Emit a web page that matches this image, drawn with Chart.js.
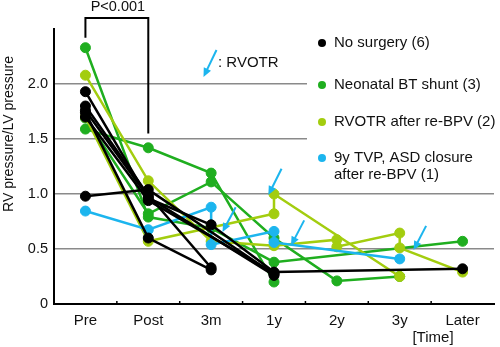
<!DOCTYPE html>
<html>
<head>
    <title>RV/LV pressure ratio</title>
    <script src="https://cdn.jsdelivr.net/npm/chart.js"></script>
    <style>
    body { margin: 0; background: #fff; }
    </style>
</head>
<body>
    <canvas id="ratioChart" width="500" height="347"></canvas>
    <script>
    // time points on the x axis
    const categories = ['Pre', 'Post', '3m', '1y', '2y', '3y', 'Later'];
    const yTicks = [0, 0.5, 1.0, 1.5, 2.0];

    // one row per patient: time points and RV/LV pressure ratio
    // repeated time points = before/after RVOTR at the same visit
    const noSurgery = [
        { t: ['Pre', 'Post', '3m', '1y', 'Later'], v: [1.93, 0.96, 0.72, 0.29, 0.32] },
        { t: ['Pre', 'Post', '3m'], v: [1.80, 0.99, 0.33] },
        { t: ['Pre', 'Post', '3m'], v: [1.74, 0.60, 0.31] },
        { t: ['Pre', 'Post', '1y'], v: [1.76, 0.97, 0.26] },
        { t: ['Pre', 'Post', '1y'], v: [1.70, 0.94, 0.28] },
        { t: ['Pre', 'Post', '1y'], v: [0.98, 1.04, 0.27] }
    ];
    const btShunt = [
        { t: ['Pre', 'Post', '3m', '1y', 'Later'], v: [2.33, 0.79, 0.69, 0.38, 0.57] },
        { t: ['Pre', 'Post', '3m', '1y', '2y', '3y'], v: [1.69, 0.82, 1.11, 0.60, 0.21, 0.25] },
        { t: ['Pre', 'Post', '3m', '1y'], v: [1.59, 1.42, 1.19, 0.20] }
    ];
    const rvotrReBpv = [
        { t: ['Pre', 'Post', '3m', '1y', '2y', '2y', '3y', '3y', 'Later'], v: [2.08, 1.12, 0.57, 0.53, 0.585, 0.52, 0.645, 0.51, 0.29] },
        { t: ['Pre', 'Post', '1y', '1y', '3y'], v: [1.70, 0.57, 0.82, 1.00, 0.25] }
    ];
    const tvpAsd = [
        { t: ['Pre', 'Post', '3m', '3m', '1y', '1y', '3y'], v: [0.845, 0.675, 0.88, 0.54, 0.66, 0.56, 0.41] }
    ];

    // RVOTR arrows: [x index, ratio] of tail and head
    const rvotrArrows = [
        { from: [2.39, 0.88], to: [2.18, 0.655] },
        { from: [3.12, 1.23], to: [2.91, 0.99] },
        { from: [3.48, 0.76], to: [3.27, 0.53] },
        { from: [5.42, 0.71], to: [5.22, 0.49] }
    ];

    const groups = [
        { name: 'No surgery (6)', rows: noSurgery, color: '#000000' },
        { name: 'Neonatal BT shunt (3)', rows: btShunt, color: '#1fae1f' },
        { name: 'RVOTR after re-BPV (2)', rows: rvotrReBpv, color: '#a3cd0f' },
        { name: ['9y TVP, ASD closure', 'after re-BPV (1)'], rows: tvpAsd, color: '#1cb5ee' }
    ];

    const FONT = 'Liberation Sans, Arial, sans-serif';
    const ARROW = '#1cb5ee';

    const datasets = [];
    // draw order: black, cyan, yellow-green, green
    [0, 3, 2, 1].forEach(gi => {
        const g = groups[gi];
        g.rows.forEach(r => {
            datasets.push({
                data: r.t.map((c, i) => ({ x: c, y: r.v[i] })),
                borderColor: g.color,
                backgroundColor: g.color,
                pointBackgroundColor: g.color,
                pointBorderColor: g.color,
                borderWidth: 2.5,
                pointRadius: 5,
                pointBorderWidth: 1,
                tension: 0
            });
        });
    });

    function drawArrow(ctx, x1, y1, x2, y2) {
        const ang = Math.atan2(y2 - y1, x2 - x1);
        ctx.save();
        ctx.strokeStyle = ARROW;
        ctx.fillStyle = ARROW;
        ctx.lineWidth = 2;
        ctx.beginPath();
        ctx.moveTo(x1, y1);
        ctx.lineTo(x2 - 6 * Math.cos(ang), y2 - 6 * Math.sin(ang));
        ctx.stroke();
        ctx.beginPath();
        ctx.moveTo(x2, y2);
        ctx.lineTo(x2 - 9 * Math.cos(ang) + 4 * Math.sin(ang), y2 - 9 * Math.sin(ang) - 4 * Math.cos(ang));
        ctx.lineTo(x2 - 9 * Math.cos(ang) - 4 * Math.sin(ang), y2 - 9 * Math.sin(ang) + 4 * Math.cos(ang));
        ctx.closePath();
        ctx.fill();
        ctx.restore();
    }

    const legendBox = {
        id: 'legendBox',
        beforeDatasetsDraw(chart) {
            const ctx = chart.ctx;
            ctx.save();
            ctx.fillStyle = '#fff';
            ctx.fillRect(307, 29, 193, 158);
            ctx.font = '15px ' + FONT;
            ctx.textBaseline = 'middle';
            ctx.textAlign = 'left';
            const rowY = [43, 85, 122, 158];
            groups.forEach((g, i) => {
                ctx.fillStyle = g.color;
                ctx.beginPath();
                ctx.arc(322, rowY[i], 4, 0, Math.PI * 2);
                ctx.fill();
                ctx.fillStyle = '#111';
                const lines = Array.isArray(g.name) ? g.name : [g.name];
                lines.forEach((l, j) => ctx.fillText(l, 334, rowY[i] + j * 17));
            });
            ctx.restore();
        },
        afterDraw(chart) {
            const ctx = chart.ctx;
            const xs = chart.scales.x, ys = chart.scales.y;
            ctx.save();

            // y axis title
            ctx.save();
            ctx.translate(9, 134);
            ctx.rotate(-Math.PI / 2);
            ctx.fillStyle = '#111';
            ctx.font = '14px ' + FONT;
            ctx.textAlign = 'center';
            ctx.textBaseline = 'middle';
            ctx.fillText('RV pressure/LV pressure', 0, 0);
            ctx.restore();

            // small tick marks between categories
            ctx.strokeStyle = '#000';
            ctx.lineWidth = 1.5;
            for (let i = 0; i < categories.length - 1; i++) {
                const x = xs.getPixelForValue(i + 0.5);
                ctx.beginPath();
                ctx.moveTo(x, ys.bottom);
                ctx.lineTo(x, ys.bottom - 3);
                ctx.stroke();
            }

            // P<0.001 bracket between Pre and Post
            const xPre = xs.getPixelForValue(0), xPost = xs.getPixelForValue(1);
            const yTop = ys.getPixelForValue(2.6);
            ctx.lineWidth = 2;
            ctx.beginPath();
            ctx.moveTo(xPre, ys.getPixelForValue(2.42));
            ctx.lineTo(xPre, yTop);
            ctx.lineTo(xPost, yTop);
            ctx.lineTo(xPost, ys.getPixelForValue(1.55));
            ctx.stroke();
            ctx.fillStyle = '#111';
            ctx.font = '14.5px ' + FONT;
            ctx.textAlign = 'center';
            ctx.textBaseline = 'middle';
            ctx.fillText('P<0.001', (xPre + xPost) / 2 + 1, 7);

            // [Time] label
            ctx.font = '15px ' + FONT;
            ctx.fillText('[Time]', 433, 338);

            // legend key for the arrows
            drawArrow(ctx, 216.5, 50, 203.5, 77);
            ctx.textAlign = 'left';
            ctx.fillText(': RVOTR', 218, 63);

            rvotrArrows.forEach(a => {
                drawArrow(ctx,
                    xs.getPixelForValue(a.from[0]), ys.getPixelForValue(a.from[1]),
                    xs.getPixelForValue(a.to[0]), ys.getPixelForValue(a.to[1]));
            });
            ctx.restore();
        }
    };

    new Chart(document.getElementById('ratioChart'), {
        type: 'line',
        data: { labels: categories, datasets: datasets },
        options: {
            responsive: false,
            animation: false,
            layout: { padding: { top: 29, right: 2, left: 0, bottom: 0 } },
            plugins: {
                legend: { display: false },
                tooltip: { enabled: false }
            },
            scales: {
                x: {
                    type: 'category',
                    offset: true,
                    grid: { display: false },
                    border: { color: '#000', width: 2 },
                    ticks: { color: '#111', font: { family: FONT, size: 15 }, padding: 0 },
                    afterFit: s => { s.height = 43; }
                },
                y: {
                    min: 0,
                    max: 2.5,
                    afterBuildTicks: s => { s.ticks = yTicks.concat([2.5]).map(v => ({ value: v })); },
                    ticks: {
                        color: '#111',
                        font: { family: FONT, size: 14.5 },
                        padding: 6,
                        callback: v => (v === 0 ? '0' : v > 2.2 ? '' : v.toFixed(1))
                    },
                    grid: {
                        drawTicks: false,
                        lineWidth: 1.5,
                        color: c => (c.tick && c.tick.value > 0 && c.tick.value < 2.2 ? '#8a8a8a' : 'rgba(0,0,0,0)')
                    },
                    border: { color: '#000', width: 2 },
                    afterFit: s => { s.width = 54; }
                }
            }
        },
        plugins: [legendBox]
    });
    </script>
</body>
</html>
